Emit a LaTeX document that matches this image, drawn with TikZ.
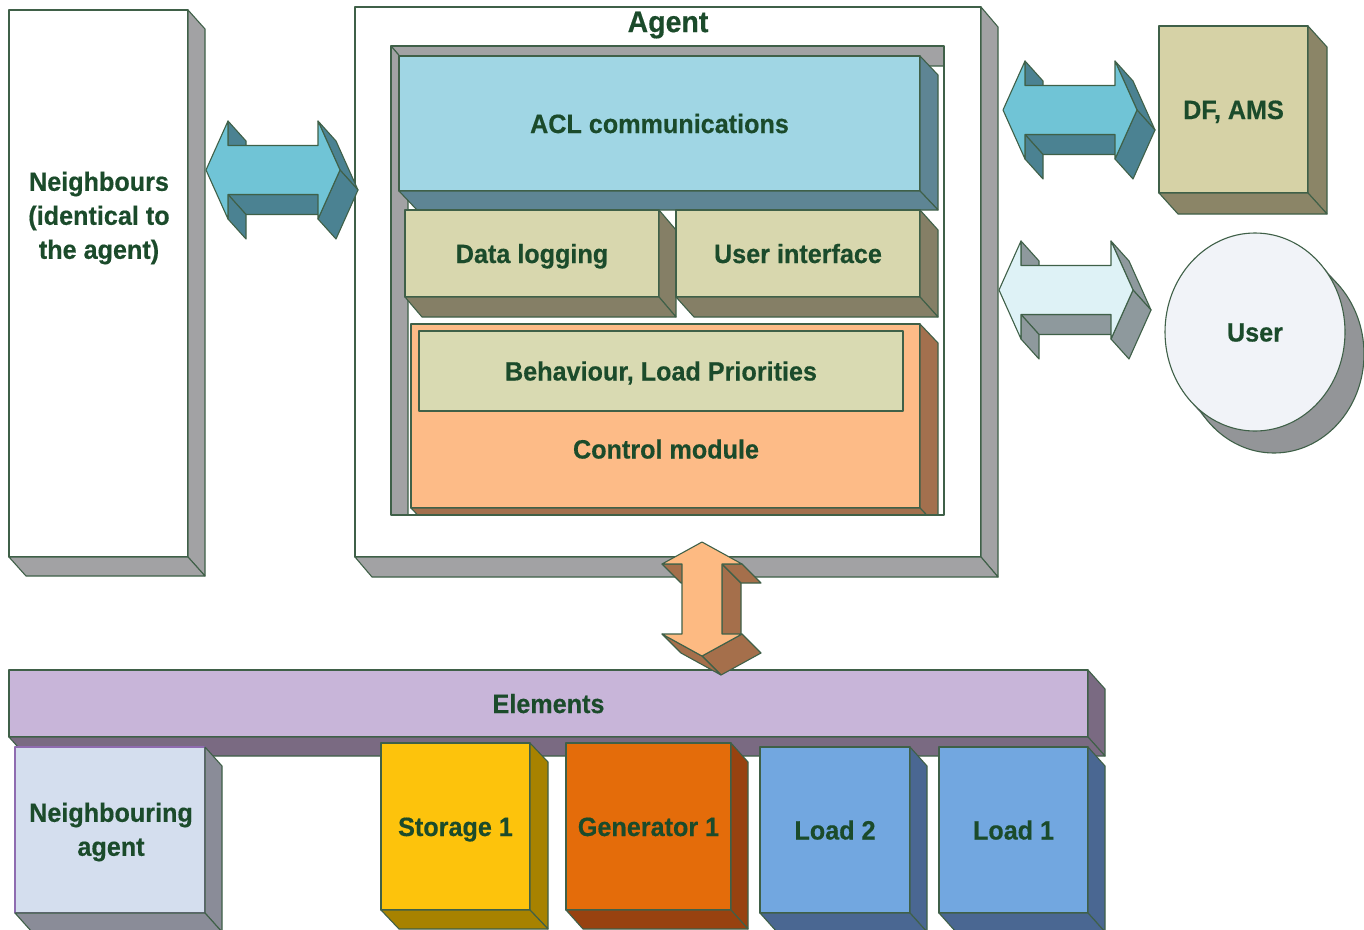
\documentclass[tikz,border=0pt]{standalone}
\usepackage{fontspec}
\setmainfont{Liberation Sans}[FakeStretch=0.95, BoldFeatures={FakeBold=0.4}]
\usetikzlibrary{calc,shapes.geometric}
\definecolor{edgec}{HTML}{3F6048}
\definecolor{textg}{HTML}{1B4B2B}
\definecolor{greyc}{HTML}{A2A2A4}
\definecolor{aclf}{HTML}{A0D6E4}
\definecolor{acls}{HTML}{5E8594}
\definecolor{khf}{HTML}{D8D7AE}
\definecolor{khs}{HTML}{857F66}
\definecolor{behf}{HTML}{D9DAB2}
\definecolor{ctlf}{HTML}{FDBB87}
\definecolor{ctls}{HTML}{A3704E}
\definecolor{dff}{HTML}{D6D2A6}
\definecolor{dfs}{HTML}{8B8567}
\definecolor{elf}{HTML}{C8B5D9}
\definecolor{els}{HTML}{7A6A82}
\definecolor{naf}{HTML}{D4DEEE}
\definecolor{nas}{HTML}{8A8C98}
\definecolor{nae}{HTML}{8F6CB0}
\definecolor{stf}{HTML}{FDC30C}
\definecolor{sts}{HTML}{A78200}
\definecolor{gnf}{HTML}{E46C0A}
\definecolor{gns}{HTML}{984210}
\definecolor{ldf}{HTML}{72A7E0}
\definecolor{lds}{HTML}{4A6792}
\definecolor{caf}{HTML}{70C4D6}
\definecolor{cas}{HTML}{4B8292}
\definecolor{laf}{HTML}{DEF2F6}
\definecolor{las}{HTML}{8E999D}
\definecolor{oaf}{HTML}{FDBA82}
\definecolor{oas}{HTML}{A56F4B}
\definecolor{usf}{HTML}{F1F3F8}
\definecolor{uss}{HTML}{939598}
\newcommand\lblfont{\fontsize{26.5}{34}\selectfont\bfseries}
\tikzset{
  ln/.style={draw=edgec, line width=1.1pt, line join=round},
  box/.style={ln, anchor=north west, inner sep=0pt, outer sep=0pt,
    font=\lblfont, text=textg, align=center},
  one/.style={text height=21pt, text depth=2pt},
  lbl/.style={font=\lblfont, text=textg, align=center, inner sep=0pt},
}
% side and bottom faces of an extruded box node
\newcommand\boxfaces[4]{%
  \filldraw[ln, fill=#4] (#1.north east) -- ++(#2,#3) -- ($(#1.south east)+(#2,#3)$) -- (#1.south east) -- cycle;
  \filldraw[ln, fill=#4] (#1.south west) -- (#1.south east) -- ++(#2,#3) -- ($(#1.south west)+(#2,#3)$) -- cycle;}
% horizontal 3D double arrow centred at (#1,#2)
\newcommand\hdarrow[4]{%
  \begin{scope}[shift={(#1,#2)}]
    \filldraw[ln, fill=#4] (45,24.5) -- (-45,24.5) -- (-27,44.5) -- (63,44.5) -- cycle;
    \filldraw[ln, fill=#4] (-45,24.5) -- (-45,49) -- (-27,69) -- (-27,44.5) -- cycle;
    \filldraw[ln, fill=#4] (-45,-49) -- (-45,-24.5) -- (-27,-4.5) -- (-27,-29) -- cycle;
    \filldraw[ln, fill=#4] (45,-49) -- (67,0) -- (85,20) -- (63,-29) -- cycle;
    \filldraw[ln, fill=#4] (67,0) -- (45,49) -- (63,69) -- (85,20) -- cycle;
    \filldraw[ln, fill=#3] (-67,0) -- (-45,-49) -- (-45,-24.5) -- (45,-24.5) -- (45,-49) -- (67,0)
      -- (45,49) -- (45,24.5) -- (-45,24.5) -- (-45,49) -- cycle;
  \end{scope}}
% vertical 3D double arrow centred at (#1,#2)
\newcommand\vdarrow[4]{%
  \begin{scope}[shift={(#1,#2)}]
    \filldraw[ln, fill=#4] (20,-35) -- (20,35) -- (39,54) -- (39,-16) -- cycle;
    \filldraw[ln, fill=#4] (40,-35) -- (20,-35) -- (39,-16) -- (59,-16) -- cycle;
    \filldraw[ln, fill=#4] (-20,-35) -- (-40,-35) -- (-21,-16) -- (-1,-16) -- cycle;
    \filldraw[ln, fill=#4] (40,35) -- (0,57) -- (19,76) -- (59,54) -- cycle;
    \filldraw[ln, fill=#4] (0,57) -- (-40,35) -- (-21,54) -- (19,76) -- cycle;
    \filldraw[ln, fill=#3] (0,-57) -- (40,-35) -- (20,-35) -- (20,35) -- (40,35) -- (0,57)
      -- (-40,35) -- (-20,35) -- (-20,-35) -- (-40,-35) -- cycle;
  \end{scope}}
\begin{document}
\begin{tikzpicture}[x=1pt, y=-1pt]
\useasboundingbox (0,0) rectangle (1364,929);
\fill[white] (0,0) rectangle (1364,929);
\clip (0,0) rectangle (1364,929);

% Neighbours
\node[box, fill=white, minimum width=179pt, minimum height=547pt] (nbr) at (9,10) {};
\boxfaces{nbr}{17}{19}{greyc}
\node[lbl] (nbrtext) at (99,218) {Neighbours\\(identical to\\the agent)};

% Agent frame
\node[box, fill=white, minimum width=626pt, minimum height=550pt] (agent) at (355,7) {};
\boxfaces{agent}{17}{20}{greyc}
\node[lbl, font=\fontsize{30}{36}\selectfont\bfseries] (agentlbl) at (668,25) {Agent};
\coordinate (holeA) at (391,46);
\coordinate (holeB) at (944,515);
\begin{scope}
  \clip (holeA) rectangle (holeB);
  \fill[white] (holeA) rectangle (holeB);
  \filldraw[ln, fill=greyc] (391,46) -- (944,46) -- (961,66) -- (408,66) -- cycle;
  \filldraw[ln, fill=greyc] (391,46) -- (408,66) -- (408,540) -- (391,520) -- cycle;
  \node[box, one, fill=aclf, minimum width=521pt, minimum height=135pt] (acl) at (399,56) {ACL communications};
  \boxfaces{acl}{18}{19}{acls}
  \node[box, one, fill=khf, minimum width=254pt, minimum height=87pt] (dlog) at (405,210) {Data logging};
  \boxfaces{dlog}{17}{20}{khs}
  \node[box, one, fill=khf, minimum width=244pt, minimum height=87pt] (uif) at (676,210) {User interface};
  \boxfaces{uif}{18}{20}{khs}
  \node[box, fill=ctlf, minimum width=509pt, minimum height=184pt] (ctl) at (411,324) {};
  \boxfaces{ctl}{18}{19}{ctls}
  \node[box, one, fill=behf, minimum width=484pt, minimum height=80pt] (beh) at (419,331) {Behaviour, Load Priorities};
  \node[lbl, one] (ctltext) at (666,449) {Control module};
\end{scope}
\draw[ln] (holeA) rectangle (holeB);

% DF, AMS
\node[box, one, fill=dff, minimum width=149pt, minimum height=167pt] (df) at (1159,26) {DF, AMS};
\boxfaces{df}{19}{21}{dfs}

% User
\foreach \t in {0,0.05,...,1.001}
  \fill[uss] ($(1255,332)+(19*\t,22*\t)$) ellipse [x radius=90pt, y radius=99pt];
\draw[ln] ($(1255,332)+(19,22)$) ellipse [x radius=90pt, y radius=99pt];
\node[ln, one, fill=usf, ellipse, minimum width=180pt, minimum height=198pt, inner sep=0pt,
  font=\lblfont, text=textg] (user) at (1255,332) {User};

% horizontal double arrows
\hdarrow{273}{170}{caf}{cas}
\hdarrow{1070}{110}{caf}{cas}
\hdarrow{1066}{290}{laf}{las}

% Elements bar
\node[box, one, fill=elf, minimum width=1079pt, minimum height=67pt] (elem) at (9,670) {Elements};
\boxfaces{elem}{17}{19}{els}

% element boxes
\node[box, draw=nae, fill=naf, minimum width=190pt, minimum height=166pt] (nagent) at (15,747) {};
\boxfaces{nagent}{17}{19}{nas}
\node[lbl] (nagenttext) at (111,832) {Neighbouring\\agent};
\node[box, one, fill=stf, minimum width=149pt, minimum height=167pt] (stor) at (381,743) {Storage 1};
\boxfaces{stor}{18}{19}{sts}
\node[box, one, fill=gnf, minimum width=165pt, minimum height=167pt] (gen) at (566,743) {Generator 1};
\boxfaces{gen}{17}{19}{gns}
\node[box, one, fill=ldf, minimum width=150pt, minimum height=166pt] (load2) at (760,747) {Load 2};
\boxfaces{load2}{17}{19}{lds}
\node[box, one, fill=ldf, minimum width=149pt, minimum height=166pt] (load1) at (939,747) {Load 1};
\boxfaces{load1}{17}{19}{lds}

% vertical double arrow between agent and elements
\vdarrow{702}{599}{oaf}{oas}
\end{tikzpicture}
\end{document}
